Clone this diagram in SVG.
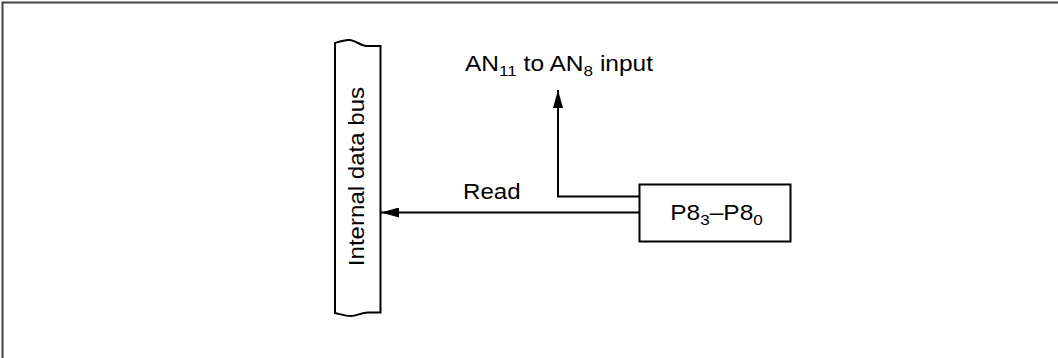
<svg xmlns="http://www.w3.org/2000/svg" width="1058" height="358" viewBox="0 0 1058 358">
  <style>
    .ln { fill: none; stroke: #000; stroke-width: 2; }
    .frame { fill: none; stroke: #444; stroke-width: 2; }
    .t { font-family: "Liberation Sans", Arial, sans-serif; font-size: 21.5px; fill: #000; }
    .sub { font-size: 15px; }
  </style>
  <defs>
    <marker id="ah" viewBox="0 0 18 10" refX="18" refY="5" markerWidth="18" markerHeight="10" orient="auto" markerUnits="userSpaceOnUse">
      <path d="M0,0 L18,5 L0,10 Z" fill="#000"/>
    </marker>
  </defs>
  <rect width="1058" height="358" fill="#fff"/>
  <path class="frame" d="M2.5,358 V2.5 H1058"/>

  <g id="bus">
    <path class="ln" d="M335,313 V43 C341,41 345,39.5 350,40 C356,40.5 360,45.5 366,46 H380.5 V312.5 H368 C361,312.5 357,316 351,316 C345,316 340,314 335,313 Z"/>
    <text class="t" text-anchor="middle" transform="translate(364,176.5) rotate(-90) scale(1.12,1)">Internal data bus</text>
  </g>

  <g id="port">
    <rect class="ln" x="639.5" y="184.5" width="151" height="57"/>
    <text class="t" text-anchor="middle" transform="translate(716.5,220) scale(1.14,1)">P8<tspan class="sub" dy="5">3</tspan><tspan dy="-5">–P8</tspan><tspan class="sub" dy="5">0</tspan></text>
  </g>

  <g id="an-label">
    <text class="t" transform="translate(465,71) scale(1.14,1)">AN<tspan class="sub" dy="5">11</tspan><tspan dy="-5"> to AN</tspan><tspan class="sub" dy="5">8</tspan><tspan dy="-5"> input</tspan></text>
  </g>

  <g id="connectors">
    <path class="ln" d="M639,212.5 H381" marker-end="url(#ah)"/>
    <path class="ln" d="M639,196.5 H558 V90" marker-end="url(#ah)"/>
    <text class="t" transform="translate(463,199) scale(1.12,1)">Read</text>
  </g>
</svg>
